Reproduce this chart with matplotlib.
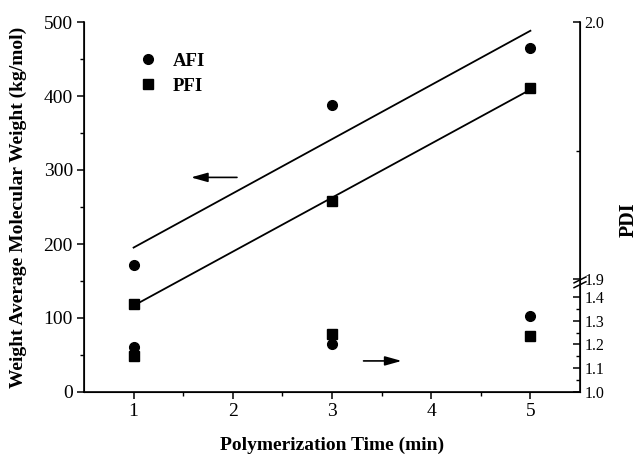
import numpy as np
import matplotlib
matplotlib.use('Agg')
import matplotlib.pyplot as plt

plt.rcParams['font.family'] = ['Liberation Serif', 'DejaVu Serif']

# datos
tiempo = [1, 3, 5]
mw_afi = [172, 388, 465]
mw_pfi = [119, 258, 411]
pdi_afi = [1.19, 1.20, 1.32]
pdi_pfi = [1.15, 1.245, 1.235]

# eje PDI con corte entre 1.4 y 1.9
pdi_pts = [1.0, 1.4, 1.9, 2.0]
frac_pts = [0.0, 0.257, 0.305, 1.0]


def fwd(v):
    return np.interp(v, pdi_pts, frac_pts)


def inv(f):
    return np.interp(f, frac_pts, pdi_pts)


fig = plt.figure(figsize=(6.39, 4.59), dpi=100)
ax = fig.add_axes([84 / 639, 67 / 459, 496 / 639, 370 / 459])
ax2 = ax.twinx()

# peso molecular
ax.plot(tiempo, mw_afi, 'o', color='black', ms=7, label='AFI')
ax.plot(tiempo, mw_pfi, 's', color='black', ms=6.5, label='PFI')

# rectas de ajuste
xs = np.array([tiempo[0], tiempo[-1]])
for serie in (mw_afi, mw_pfi):
    m, b = np.polyfit(tiempo, serie, 1)
    ax.plot(xs, m * xs + b, '-', color='black', lw=1.3)

ax.set_xlim(0.5, 5.5)
ax.set_ylim(0, 500)
ax.set_xticks([1, 2, 3, 4, 5])
ax.set_xticks([1.5, 2.5, 3.5, 4.5], minor=True)
ax.set_yticks([0, 100, 200, 300, 400, 500])
ax.set_yticks([50, 150, 250, 350, 450], minor=True)
ax.tick_params(axis='both', which='major', direction='out', length=5, width=1.1, labelsize=14, pad=3)
ax.tick_params(axis='both', which='minor', direction='out', length=3, width=1.0)
ax.spines['top'].set_visible(False)
for s in ('left', 'bottom'):
    ax.spines[s].set_linewidth(1.2)

ax.set_xlabel('Polymerization Time (min)', fontsize=14, fontweight='bold')
ax.xaxis.set_label_coords(0.5, -0.12)
ax.set_ylabel('Weight Average Molecular Weight (kg/mol)', fontsize=14, fontweight='bold')
ax.yaxis.set_label_coords(-0.115, 0.5)

# flechas
ax.annotate('', xy=(1.55, 290), xytext=(2.07, 290),
            arrowprops=dict(arrowstyle='-|>,head_length=1.0,head_width=0.28', color='black', lw=1.2))
ax.annotate('', xy=(3.73, 42), xytext=(3.29, 42),
            arrowprops=dict(arrowstyle='-|>,head_length=1.0,head_width=0.28', color='black', lw=1.2))

ax.legend(loc='upper left', bbox_to_anchor=(0.077, 0.962), frameon=False, numpoints=1,
          handlelength=1.0, handletextpad=0.8, labelspacing=0.4,
          prop={'weight': 'bold', 'size': 13.5})

# PDI
ax2.set_yscale('function', functions=(fwd, inv))
ax2.plot(tiempo, pdi_afi, 'o', color='black', ms=7)
ax2.plot(tiempo, pdi_pfi, 's', color='black', ms=6.5)
ax2.set_ylim(1.0, 2.0)
ax2.set_yticks([1.0, 1.1, 1.2, 1.3, 1.4, 1.9, 2.0])
ax2.set_yticklabels(['1.0', '1.1', '1.2', '1.3', '1.4', '1.9', '2.0'])
ax2.set_yticks([1.05, 1.15, 1.25, 1.35, 1.95], minor=True)
ax2.yaxis.set_minor_formatter(matplotlib.ticker.NullFormatter())
ax2.tick_params(axis='y', which='major', direction='in', length=5, width=1.1, labelsize=11.5, pad=3)
ax2.tick_params(axis='y', which='minor', direction='in', length=3, width=1.0)
ax2.spines['top'].set_visible(False)
ax2.spines['right'].set_linewidth(1.2)
ax2.set_ylabel('PDI', fontsize=14.5, fontweight='bold')
ax2.yaxis.set_label_coords(1.078, 0.465)

# marcas del corte
for yb in (0.290, 0.303):
    ax2.plot([0.988, 1.012], [yb - 0.008, yb + 0.008], color='black', lw=1.1,
             transform=ax2.transAxes, clip_on=False)

fig.savefig('out.png', dpi=100)
